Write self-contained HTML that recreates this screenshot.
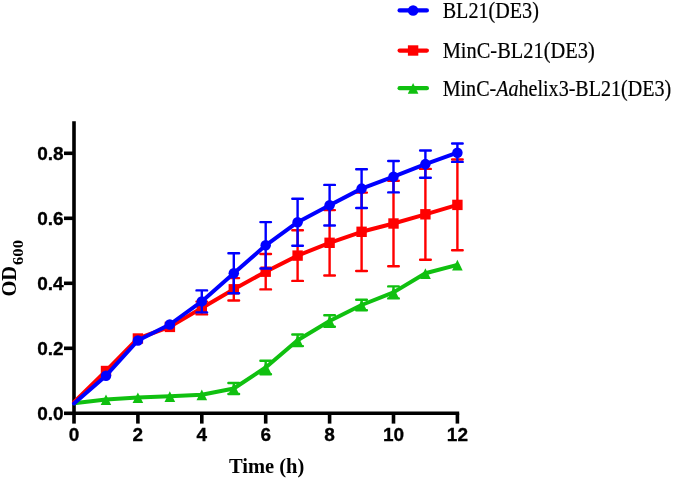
<!DOCTYPE html>
<html><head><meta charset="utf-8"><title>Growth curve</title>
<style>
html,body{margin:0;padding:0;background:#fff;}
svg{display:block}
.tk{font-family:"Liberation Sans",sans-serif;font-weight:bold;font-size:19px;fill:#000;stroke:#000;stroke-width:0.3px}
.al{font-family:"Liberation Serif",serif;font-weight:bold;font-size:20.5px;fill:#000}
.lg{font-family:"Liberation Serif",serif;font-size:22.2px;fill:#000;stroke:#000;stroke-width:0.2px}
</style></head><body>
<svg width="675" height="480" viewBox="0 0 675 480">
<rect width="675" height="480" fill="#fff"/>
<path d="M74.0 121.3V415.1M72.2 413.3H459.2" stroke="#000" stroke-width="3.6" fill="none"/>
<path d="M64 413.3H74.0" stroke="#000" stroke-width="3.6"/>
<text x="63.6" y="419.9" text-anchor="end" class="tk">0.0</text>
<path d="M64 348.3H74.0" stroke="#000" stroke-width="3.6"/>
<text x="63.6" y="354.9" text-anchor="end" class="tk">0.2</text>
<path d="M64 283.3H74.0" stroke="#000" stroke-width="3.6"/>
<text x="63.6" y="289.9" text-anchor="end" class="tk">0.4</text>
<path d="M64 218.3H74.0" stroke="#000" stroke-width="3.6"/>
<text x="63.6" y="224.9" text-anchor="end" class="tk">0.6</text>
<path d="M64 153.3H74.0" stroke="#000" stroke-width="3.6"/>
<text x="63.6" y="159.9" text-anchor="end" class="tk">0.8</text>
<path d="M74.0 413.3V423.6" stroke="#000" stroke-width="3.6"/>
<text x="74.0" y="440.6" text-anchor="middle" class="tk">0</text>
<path d="M137.9 413.3V423.6" stroke="#000" stroke-width="3.6"/>
<text x="137.9" y="440.6" text-anchor="middle" class="tk">2</text>
<path d="M201.8 413.3V423.6" stroke="#000" stroke-width="3.6"/>
<text x="201.8" y="440.6" text-anchor="middle" class="tk">4</text>
<path d="M265.7 413.3V423.6" stroke="#000" stroke-width="3.6"/>
<text x="265.7" y="440.6" text-anchor="middle" class="tk">6</text>
<path d="M329.6 413.3V423.6" stroke="#000" stroke-width="3.6"/>
<text x="329.6" y="440.6" text-anchor="middle" class="tk">8</text>
<path d="M393.5 413.3V423.6" stroke="#000" stroke-width="3.6"/>
<text x="393.5" y="440.6" text-anchor="middle" class="tk">10</text>
<path d="M457.4 413.3V423.6" stroke="#000" stroke-width="3.6"/>
<text x="457.4" y="440.6" text-anchor="middle" class="tk">12</text>
<path d="M233.8 383.0V394.0M228.4 383.0H239.1M228.4 394.0H239.1" stroke="#10c010" stroke-width="2.4" fill="none" stroke-linecap="round"/>
<path d="M265.7 360.7V374.3M260.4 360.7H271.0M260.4 374.3H271.0" stroke="#10c010" stroke-width="2.4" fill="none" stroke-linecap="round"/>
<path d="M297.6 334.5V346.1M292.3 334.5H302.9M292.3 346.1H302.9" stroke="#10c010" stroke-width="2.4" fill="none" stroke-linecap="round"/>
<path d="M329.6 315.2V326.8M324.3 315.2H334.9M324.3 326.8H334.9" stroke="#10c010" stroke-width="2.4" fill="none" stroke-linecap="round"/>
<path d="M361.6 299.7V310.3M356.2 299.7H366.9M356.2 310.3H366.9" stroke="#10c010" stroke-width="2.4" fill="none" stroke-linecap="round"/>
<path d="M393.5 286.4V298.4M388.2 286.4H398.8M388.2 298.4H398.8" stroke="#10c010" stroke-width="2.4" fill="none" stroke-linecap="round"/>
<path d="M74.0 403.2L106.0 399.5L137.9 397.5L169.8 396.3L201.8 394.7L233.8 388.5L265.7 367.5L297.6 340.3L329.6 321.0L361.6 305.0L393.5 292.4L425.4 273.3L457.4 264.9" stroke="#10c010" stroke-width="4.0" fill="none" stroke-linejoin="round" stroke-linecap="round"/>
<path d="M106.0 394.4L111.2 405.1H100.7Z" fill="#10c010"/>
<path d="M137.9 392.4L143.2 403.1H132.6Z" fill="#10c010"/>
<path d="M169.8 391.2L175.2 401.9H164.5Z" fill="#10c010"/>
<path d="M201.8 389.6L207.1 400.3H196.5Z" fill="#10c010"/>
<path d="M233.8 383.4L239.1 394.1H228.4Z" fill="#10c010"/>
<path d="M265.7 362.4L271.0 373.1H260.4Z" fill="#10c010"/>
<path d="M297.6 335.2L302.9 345.9H292.3Z" fill="#10c010"/>
<path d="M329.6 315.9L334.9 326.6H324.3Z" fill="#10c010"/>
<path d="M361.6 299.9L366.9 310.6H356.2Z" fill="#10c010"/>
<path d="M393.5 287.3L398.8 298.0H388.2Z" fill="#10c010"/>
<path d="M425.4 268.2L430.8 278.9H420.1Z" fill="#10c010"/>
<path d="M457.4 259.8L462.7 270.5H452.1Z" fill="#10c010"/>
<path d="M201.8 301.6V314.4M196.5 301.6H207.1M196.5 314.4H207.1" stroke="#ff0000" stroke-width="2.4" fill="none" stroke-linecap="round"/>
<path d="M233.8 278.1V300.5M228.4 278.1H239.1M228.4 300.5H239.1" stroke="#ff0000" stroke-width="2.4" fill="none" stroke-linecap="round"/>
<path d="M265.7 254.0V289.4M260.4 254.0H271.0M260.4 289.4H271.0" stroke="#ff0000" stroke-width="2.4" fill="none" stroke-linecap="round"/>
<path d="M297.6 230.3V280.9M292.3 230.3H302.9M292.3 280.9H302.9" stroke="#ff0000" stroke-width="2.4" fill="none" stroke-linecap="round"/>
<path d="M329.6 210.1V275.5M324.3 210.1H334.9M324.3 275.5H334.9" stroke="#ff0000" stroke-width="2.4" fill="none" stroke-linecap="round"/>
<path d="M361.6 192.6V271.0M356.2 192.6H366.9M356.2 271.0H366.9" stroke="#ff0000" stroke-width="2.4" fill="none" stroke-linecap="round"/>
<path d="M393.5 180.7V266.3M388.2 180.7H398.8M388.2 266.3H398.8" stroke="#ff0000" stroke-width="2.4" fill="none" stroke-linecap="round"/>
<path d="M425.4 168.9V259.7M420.1 168.9H430.8M420.1 259.7H430.8" stroke="#ff0000" stroke-width="2.4" fill="none" stroke-linecap="round"/>
<path d="M457.4 159.5V250.3M452.1 159.5H462.7M452.1 250.3H462.7" stroke="#ff0000" stroke-width="2.4" fill="none" stroke-linecap="round"/>
<path d="M74.0 402.3L106.0 371.0L137.9 338.5L169.8 326.9L201.8 308.0L233.8 289.3L265.7 271.7L297.6 255.6L329.6 242.8L361.6 231.8L393.5 223.5L425.4 214.3L457.4 204.9" stroke="#ff0000" stroke-width="4.0" fill="none" stroke-linejoin="round" stroke-linecap="round"/>
<rect x="100.8" y="365.8" width="10.4" height="10.4" fill="#ff0000"/>
<rect x="132.7" y="333.3" width="10.4" height="10.4" fill="#ff0000"/>
<rect x="164.7" y="321.7" width="10.4" height="10.4" fill="#ff0000"/>
<rect x="196.6" y="302.8" width="10.4" height="10.4" fill="#ff0000"/>
<rect x="228.6" y="284.1" width="10.4" height="10.4" fill="#ff0000"/>
<rect x="260.5" y="266.5" width="10.4" height="10.4" fill="#ff0000"/>
<rect x="292.4" y="250.4" width="10.4" height="10.4" fill="#ff0000"/>
<rect x="324.4" y="237.6" width="10.4" height="10.4" fill="#ff0000"/>
<rect x="356.4" y="226.6" width="10.4" height="10.4" fill="#ff0000"/>
<rect x="388.3" y="218.3" width="10.4" height="10.4" fill="#ff0000"/>
<rect x="420.2" y="209.1" width="10.4" height="10.4" fill="#ff0000"/>
<rect x="452.2" y="199.7" width="10.4" height="10.4" fill="#ff0000"/>
<path d="M201.8 290.4V312.4M196.5 290.4H207.1M196.5 312.4H207.1" stroke="#0000ff" stroke-width="2.4" fill="none" stroke-linecap="round"/>
<path d="M233.8 253.3V293.3M228.4 253.3H239.1M228.4 293.3H239.1" stroke="#0000ff" stroke-width="2.4" fill="none" stroke-linecap="round"/>
<path d="M265.7 222.1V268.5M260.4 222.1H271.0M260.4 268.5H271.0" stroke="#0000ff" stroke-width="2.4" fill="none" stroke-linecap="round"/>
<path d="M297.6 198.7V245.7M292.3 198.7H302.9M292.3 245.7H302.9" stroke="#0000ff" stroke-width="2.4" fill="none" stroke-linecap="round"/>
<path d="M329.6 184.9V225.5M324.3 184.9H334.9M324.3 225.5H334.9" stroke="#0000ff" stroke-width="2.4" fill="none" stroke-linecap="round"/>
<path d="M361.6 169.2V208.0M356.2 169.2H366.9M356.2 208.0H366.9" stroke="#0000ff" stroke-width="2.4" fill="none" stroke-linecap="round"/>
<path d="M393.5 161.0V192.4M388.2 161.0H398.8M388.2 192.4H398.8" stroke="#0000ff" stroke-width="2.4" fill="none" stroke-linecap="round"/>
<path d="M425.4 150.5V177.7M420.1 150.5H430.8M420.1 177.7H430.8" stroke="#0000ff" stroke-width="2.4" fill="none" stroke-linecap="round"/>
<path d="M457.4 143.5V161.9M452.1 143.5H462.7M452.1 161.9H462.7" stroke="#0000ff" stroke-width="2.4" fill="none" stroke-linecap="round"/>
<path d="M74.0 403.5L106.0 375.7L137.9 340.5L169.8 324.5L201.8 301.4L233.8 273.3L265.7 245.3L297.6 222.2L329.6 205.2L361.6 188.6L393.5 176.7L425.4 164.1L457.4 152.7" stroke="#0000ff" stroke-width="4.0" fill="none" stroke-linejoin="round" stroke-linecap="round"/>
<circle cx="106.0" cy="375.7" r="5.25" fill="#0000ff"/>
<circle cx="137.9" cy="340.5" r="5.25" fill="#0000ff"/>
<circle cx="169.8" cy="324.5" r="5.25" fill="#0000ff"/>
<circle cx="201.8" cy="301.4" r="5.25" fill="#0000ff"/>
<circle cx="233.8" cy="273.3" r="5.25" fill="#0000ff"/>
<circle cx="265.7" cy="245.3" r="5.25" fill="#0000ff"/>
<circle cx="297.6" cy="222.2" r="5.25" fill="#0000ff"/>
<circle cx="329.6" cy="205.2" r="5.25" fill="#0000ff"/>
<circle cx="361.6" cy="188.6" r="5.25" fill="#0000ff"/>
<circle cx="393.5" cy="176.7" r="5.25" fill="#0000ff"/>
<circle cx="425.4" cy="164.1" r="5.25" fill="#0000ff"/>
<circle cx="457.4" cy="152.7" r="5.25" fill="#0000ff"/>
<text x="266.6" y="472.9" text-anchor="middle" class="al">Time (h)</text>
<text transform="translate(16.1,296.6) rotate(-90)" class="al">OD</text>
<text transform="translate(22.7,264.9) rotate(-90)" class="al" style="font-size:14px" textLength="24.8" lengthAdjust="spacingAndGlyphs">600</text>
<path d="M399.6 10.4H426.9" stroke="#0000ff" stroke-width="4.2" stroke-linecap="round"/>
<circle cx="413.1" cy="10.5" r="5.25" fill="#0000ff"/>
<text x="442.7" y="17.9" class="lg" textLength="96.2" lengthAdjust="spacingAndGlyphs">BL21(DE3)</text>
<path d="M399.6 50.55H426.9" stroke="#ff0000" stroke-width="4.2" stroke-linecap="round"/>
<rect x="407.9" y="45.3" width="10.4" height="10.4" fill="#ff0000"/>
<text x="442.7" y="58.0" class="lg" textLength="152" lengthAdjust="spacingAndGlyphs">MinC-BL21(DE3)</text>
<path d="M399.6 88.2H426.9" stroke="#10c010" stroke-width="4.2" stroke-linecap="round"/>
<path d="M413.1 83.1L418.4 93.8H407.8Z" fill="#10c010"/>
<text x="442.7" y="96.2" class="lg" textLength="228.5" lengthAdjust="spacingAndGlyphs">MinC-<tspan font-style="italic">Aa</tspan>helix3-BL21(DE3)</text>
</svg>
</body></html>
